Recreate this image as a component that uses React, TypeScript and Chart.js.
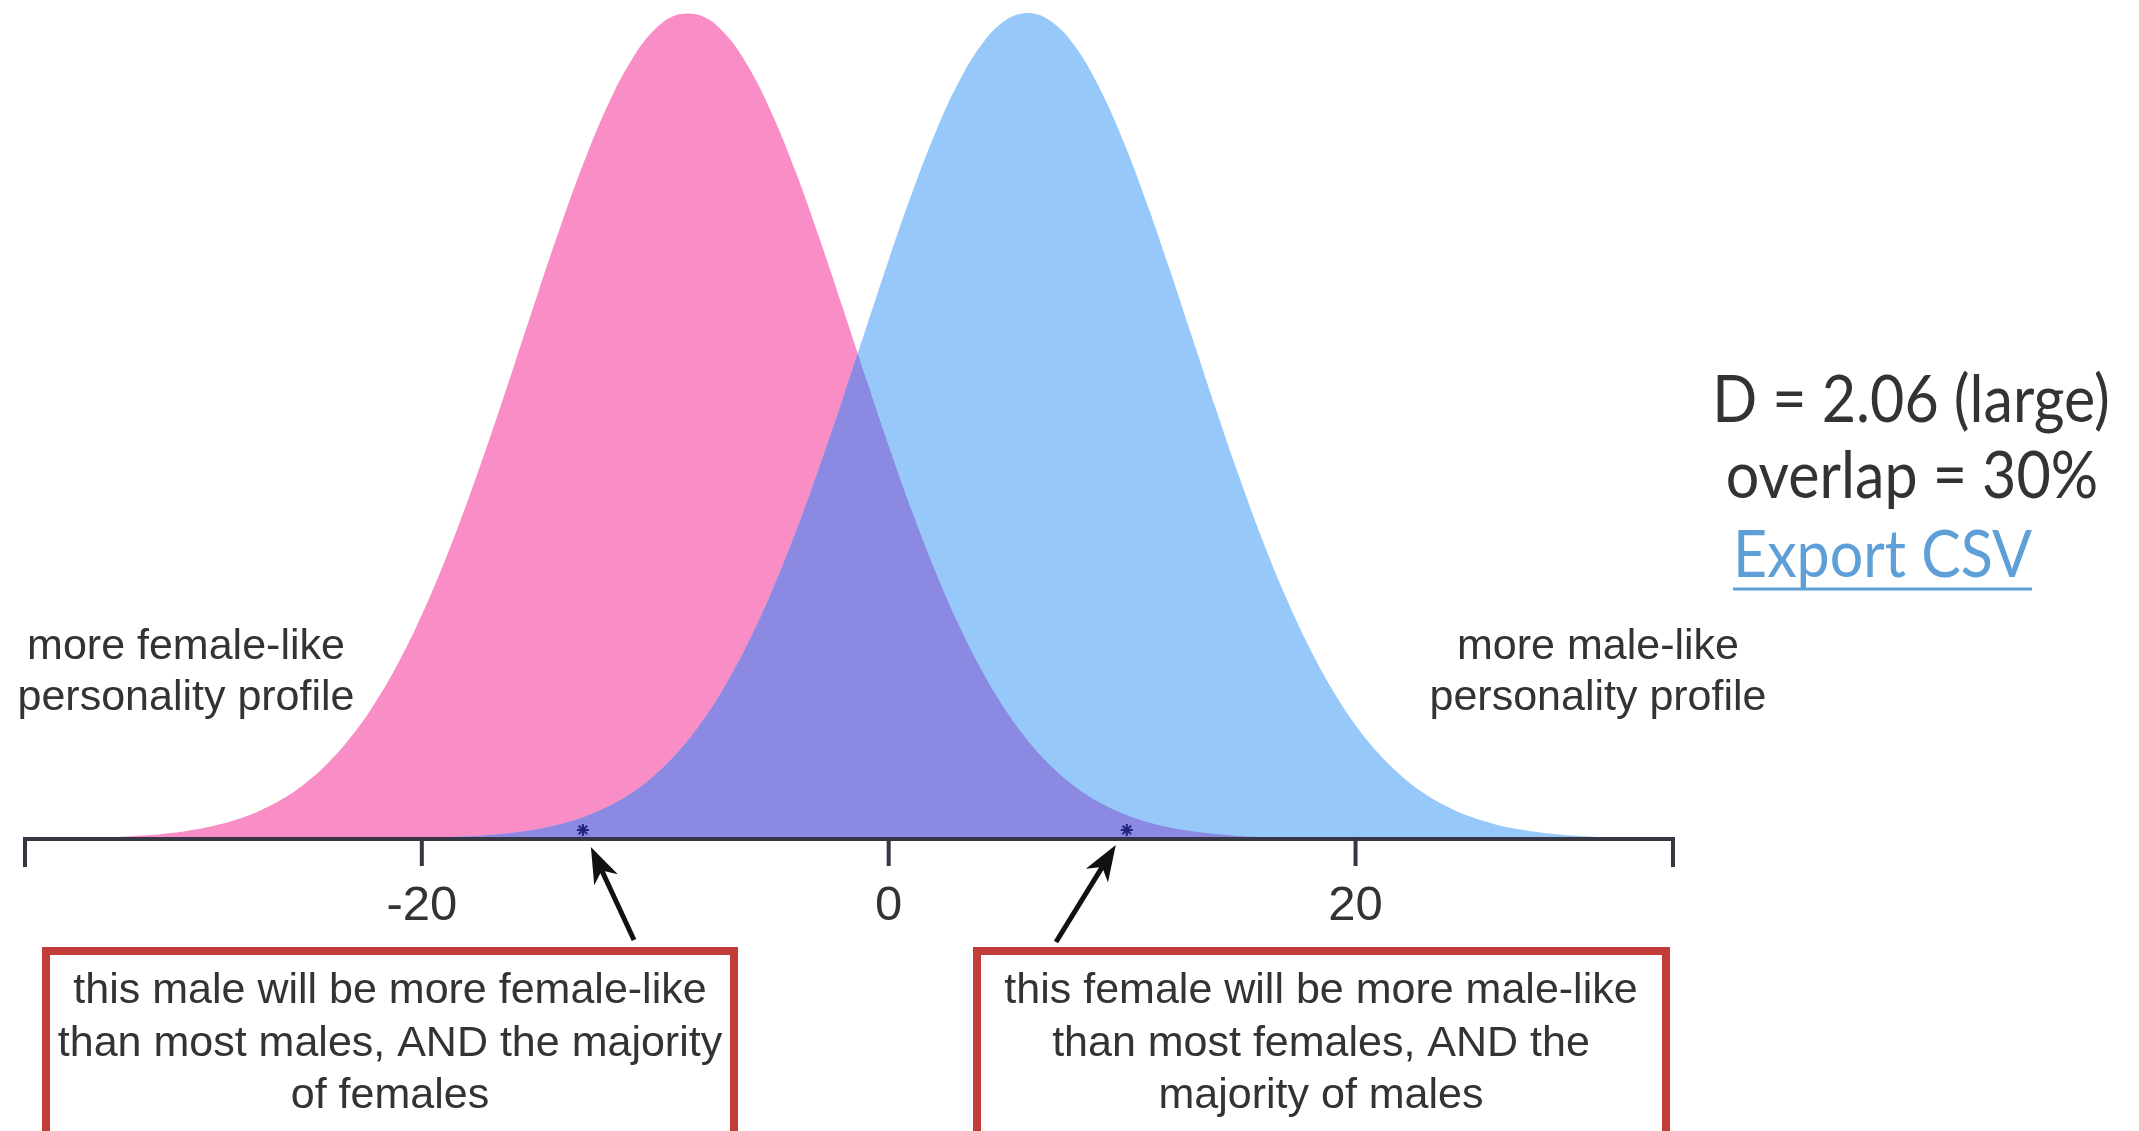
import React, { useEffect, useRef } from "react";
import { Chart, registerables } from "chart.js";

Chart.register(...registerables);

// ---- data (heights are relative to the peak = 100) ----
const X_VALUES = [
  -37, -36, -35, -34, -33, -32, -31, -30, -29, -28, -27, -26, -25, -24, -23, -22, -21, -20,
  -19, -18, -17, -16, -15, -14, -13, -12, -11, -10, -9, -8, -7, -6, -5, -4, -3, -2, -1, 0,
  1, 2, 3, 4, 5, 6, 7, 8, 9, 10, 11, 12, 13, 14, 15, 16, 17, 18, 19, 20, 21, 22, 23, 24, 25,
  26, 27, 28, 29, 30, 31, 32, 33, 33.6,
];
const FEMALE = [
  0.03, 0.05, 0.09, 0.15, 0.25, 0.41, 0.65, 1.01, 1.54, 2.29, 3.35, 4.8, 6.73, 9.26, 12.49, 16.51, 21.37, 27.15,
  33.79, 41.21, 49.27, 57.73, 66.31, 74.64, 82.35, 89.05, 94.38, 98.05, 99.84, 99.64, 97.46, 93.44, 87.81, 80.87, 73.01, 64.6, 56.02, 47.62,
  39.67, 32.39, 25.93, 20.34, 15.64, 11.78, 8.71, 6.3, 4.47, 3.11, 2.12, 1.42, 0.93, 0.6, 0.37, 0.23, 0.14, 0.08, 0.05, 0.03, 0.02, 0.01, 0, 0, 0,
  0, 0, 0, 0, 0, 0, 0, 0, 0,
];
const MALE = [
  0, 0, 0, 0, 0, 0, 0, 0, 0, 0, 0, 0, 0, 0.01, 0.02, 0.04, 0.07, 0.12,
  0.19, 0.32, 0.51, 0.8, 1.22, 1.85, 2.73, 3.95, 5.6, 7.79, 10.62, 14.2, 18.59, 23.87, 30.03, 37.04, 44.77, 53.04, 61.59, 70.11,
  78.21, 85.51, 91.64, 96.26, 99.1, 100, 98.9, 95.87, 91.09, 84.83, 77.43, 69.27, 60.74, 52.2, 43.97, 36.3, 29.38, 23.3, 18.11, 13.8, 10.31, 7.54, 5.41, 3.81, 2.62,
  1.77, 1.17, 0.76, 0.48, 0.3, 0.18, 0.11, 0.07, 0.05,
];
const X_MIN = -37;
const X_MAX = 33.6;
const TICK_VALUES = [-20, 0, 20];
const STAR_X = [-13.1, 10.2];
const STAR_Y = [1.1, 1.1];

const LEFT_LABEL = ["more female-like", "personality profile"];
const RIGHT_LABEL = ["more male-like", "personality profile"];
const STATS = ["D = 2.06 (large)", "overlap = 30%"];
const LINK_TEXT = "Export CSV";
const BOX_LEFT = ["this male will be more female-like", "than most males, AND the majority", "of females"];
const BOX_RIGHT = ["this female will be more male-like", "than most females, AND the", "majority of males"];

// ---- styles ----
const W = 2139;
const H = 1131;
const PINK = "#f98ec6";
const BLUE = "#96c9fa";
const PURPLE = "#8b89e1";
const STAR_COLOR = "#22227e";
const TEXT = "#333333";
const AXIS = "#363644";
const BOX_RED = "#c23c3a";
const LINK_BLUE = "#5d9fd6";
const SANS = '"Liberation Sans", Arial, Helvetica, sans-serif';
const LATO = 'Lato, "Open Sans", sans-serif';

function drawArrow(ctx: CanvasRenderingContext2D, fx: number, fy: number, tx: number, ty: number) {
  const ang = Math.atan2(ty - fy, tx - fx);
  const c = Math.cos(ang);
  const s = Math.sin(ang);
  const headLen = 36;
  const headW = 13;
  const bx = tx - headLen * c;
  const by = ty - headLen * s;
  const nx = tx - headLen * 0.72 * c;
  const ny = ty - headLen * 0.72 * s;
  ctx.save();
  ctx.strokeStyle = "#111";
  ctx.fillStyle = "#111";
  ctx.lineWidth = 5;
  ctx.beginPath();
  ctx.moveTo(fx, fy);
  ctx.lineTo(nx, ny);
  ctx.stroke();
  ctx.beginPath();
  ctx.moveTo(tx, ty);
  ctx.lineTo(bx - headW * s, by + headW * c);
  ctx.lineTo(nx, ny);
  ctx.lineTo(bx + headW * s, by - headW * c);
  ctx.closePath();
  ctx.fill();
  ctx.restore();
}

function latoText(ctx: CanvasRenderingContext2D, text: string, x: number, y: number, align: "center" | "left") {
  const sx = 0.91;
  ctx.save();
  ctx.translate(x, y);
  ctx.scale(sx, 1);
  ctx.textAlign = align;
  ctx.fillText(text, 0, 0);
  const w = ctx.measureText(text).width * sx;
  ctx.restore();
  return w;
}

const overlayPlugin = {
  id: "overlay",
  afterDatasetDraw(chart: any, args: any) {
    if (args.index !== 1) return;
    const ctx: CanvasRenderingContext2D = chart.ctx;
    const xs = chart.scales.x;
    const ys = chart.scales.y;
    const base = ys.getPixelForValue(0);
    const x0 = xs.getPixelForValue(X_VALUES[0]);
    const x1 = xs.getPixelForValue(X_VALUES[X_VALUES.length - 1]);
    const f = chart.getDatasetMeta(0).dataset;
    const m = chart.getDatasetMeta(1).dataset;
    ctx.save();
    ctx.beginPath();
    f.path(ctx);
    ctx.lineTo(x1, base);
    ctx.lineTo(x0, base);
    ctx.closePath();
    ctx.clip();
    ctx.beginPath();
    m.path(ctx);
    ctx.lineTo(x1, base);
    ctx.lineTo(x0, base);
    ctx.closePath();
    ctx.fillStyle = PURPLE;
    ctx.fill();
    ctx.restore();
  },
  afterDraw(chart: any) {
    const ctx: CanvasRenderingContext2D = chart.ctx;
    const xs = chart.scales.x;
    const ys = chart.scales.y;
    const base = ys.getPixelForValue(0);
    const left = xs.getPixelForValue(X_MIN);
    const right = xs.getPixelForValue(X_MAX);
    ctx.save();

    // axis line and end ticks
    ctx.strokeStyle = AXIS;
    ctx.lineWidth = 4;
    ctx.beginPath();
    ctx.moveTo(left, base + 28);
    ctx.lineTo(left, base);
    ctx.lineTo(right, base);
    ctx.lineTo(right, base + 28);
    ctx.stroke();
    // ticks
    ctx.fillStyle = TEXT;
    ctx.font = `49px ${SANS}`;
    ctx.textAlign = "center";
    ctx.textBaseline = "alphabetic";
    for (const v of TICK_VALUES) {
      const px = xs.getPixelForValue(v);
      ctx.beginPath();
      ctx.moveTo(px, base);
      ctx.lineTo(px, base + 27);
      ctx.stroke();
      ctx.fillText(String(v), px, base + 81);
    }

    // side labels
    ctx.font = `43px ${SANS}`;
    ctx.fillStyle = TEXT;
    LEFT_LABEL.forEach((t, i) => ctx.fillText(t, 186, 659 + i * 51));
    RIGHT_LABEL.forEach((t, i) => ctx.fillText(t, 1598, 659 + i * 51));

    // stats
    ctx.font = `65px ${LATO}`;
    ctx.fillStyle = TEXT;
    latoText(ctx, STATS[0], 1911, 422, "center");
    latoText(ctx, STATS[1], 1912, 498, "center");
    ctx.fillStyle = LINK_BLUE;
    const lw = latoText(ctx, LINK_TEXT, 1733, 577, "left");
    ctx.strokeStyle = LINK_BLUE;
    ctx.lineWidth = 3;
    ctx.beginPath();
    ctx.moveTo(1733, 589);
    ctx.lineTo(1733 + lw, 589);
    ctx.stroke();

    // boxes
    ctx.strokeStyle = BOX_RED;
    ctx.lineWidth = 8;
    ctx.strokeRect(46, 951, 688, 260);
    ctx.strokeRect(977, 951, 689, 260);
    ctx.fillStyle = TEXT;
    ctx.font = `43px ${SANS}`;
    ctx.textAlign = "center";
    BOX_LEFT.forEach((t, i) => ctx.fillText(t, 390, 1003 + i * 52.5));
    BOX_RIGHT.forEach((t, i) => ctx.fillText(t, 1321, 1003 + i * 52.5));

    // arrows pointing at the two starred individuals
    const s0 = xs.getPixelForValue(STAR_X[0]);
    const s1 = xs.getPixelForValue(STAR_X[1]);
    drawArrow(ctx, 634, 940, s0 + 8, base + 8);
    drawArrow(ctx, 1056, 942, s1 - 11, base + 6);

    ctx.restore();
  },
};

export default function App() {
  const ref = useRef<HTMLCanvasElement | null>(null);
  useEffect(() => {
    if (!ref.current) return;
    const chart = new Chart(ref.current, {
      type: "line",
      data: {
        datasets: [
          {
            label: "females",
            data: X_VALUES.map((x, i) => ({ x, y: FEMALE[i] })),
            backgroundColor: PINK,
            borderColor: "rgba(0,0,0,0)",
            borderWidth: 0,
            pointRadius: 0,
            fill: "origin",
            tension: 0.4,
            order: 2,
          },
          {
            label: "males",
            data: X_VALUES.map((x, i) => ({ x, y: MALE[i] })),
            backgroundColor: BLUE,
            borderColor: "rgba(0,0,0,0)",
            borderWidth: 0,
            pointRadius: 0,
            fill: "origin",
            tension: 0.4,
            order: 1,
          },
          {
            label: "individuals",
            data: STAR_X.map((x, i) => ({ x, y: STAR_Y[i] })),
            showLine: false,
            pointStyle: "star",
            pointRadius: 6,
            pointBorderWidth: 2,
            pointBorderColor: STAR_COLOR,
            pointBackgroundColor: STAR_COLOR,
            fill: false,
            clip: false,
            order: 0,
          },
        ],
      },
      options: {
        responsive: false,
        maintainAspectRatio: false,
        animation: false,
        devicePixelRatio: 1,
        layout: { padding: { left: 25, right: W - 1673, top: 13, bottom: H - 839 } },
        scales: {
          x: { type: "linear", min: X_MIN, max: X_MAX, display: false },
          y: { type: "linear", min: 0, max: 100, display: false },
        },
        plugins: { legend: { display: false }, tooltip: { enabled: false } },
        events: [],
      },
      plugins: [overlayPlugin],
    } as any);
    return () => chart.destroy();
  }, []);
  return (
    <div style={{ position: "fixed", left: 0, top: 0, width: W, height: H, background: "#fff" }}>
      <canvas ref={ref} width={W} height={H} style={{ display: "block", width: W, height: H }} />
    </div>
  );
}
